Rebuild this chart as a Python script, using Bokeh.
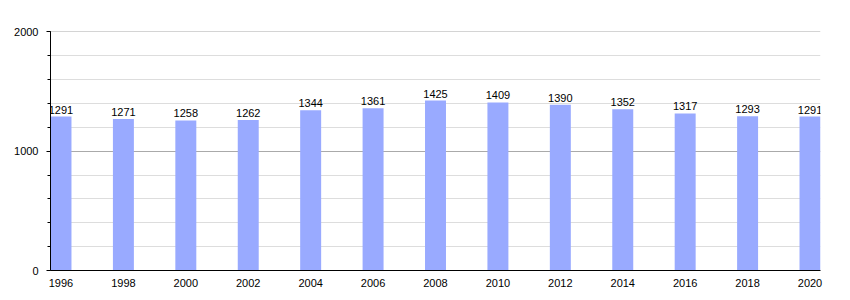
from bokeh.plotting import figure
from bokeh.models import Range1d, FixedTicker, LinearAxis, ColumnDataSource, Grid
from bokeh.core.properties import value
from bokeh.embed import file_html
from bokeh.resources import INLINE

years = ["1996", "1998", "2000", "2002", "2004", "2006", "2008", "2010", "2012", "2014", "2016", "2018", "2020"]
population = [1291, 1271, 1258, 1262, 1344, 1361, 1425, 1409, 1390, 1352, 1317, 1293, 1291]
y_ticks = [0, 1000, 2000]
y_minor = [200, 400, 600, 800, 1200, 1400, 1600, 1800]

idx = list(range(len(years)))
src = ColumnDataSource(dict(x=idx, top=population, label=[str(v) for v in population]))

FONT = "Liberation Sans"
BW = 0.336

p = figure(width=850, height=300, output_backend="svg", toolbar_location=None,
           x_range=Range1d(-BW / 2, len(years) - 1 + BW / 2), y_range=Range1d(0, 2004),
           x_axis_type=None, y_axis_type=None,
           min_border_left=50, min_border_right=30, min_border_top=31, min_border_bottom=30)
p.outline_line_color = None
p.background_fill_color = "white"
p.border_fill_color = "white"

yticker = FixedTicker(ticks=y_ticks, minor_ticks=y_ticks + y_minor)
yaxis = LinearAxis(ticker=yticker)
yaxis.axis_line_color = "black"
yaxis.major_tick_line_color = "black"
yaxis.minor_tick_line_color = "black"
yaxis.major_tick_out = 4
yaxis.major_tick_in = 0
yaxis.minor_tick_out = 3
yaxis.minor_tick_in = 0
yaxis.major_label_standoff = 8
yaxis.major_label_text_font = FONT
yaxis.major_label_text_font_size = "11px"
yaxis.major_label_text_color = "black"
p.add_layout(yaxis, "left")

xaxis = LinearAxis(ticker=FixedTicker(ticks=idx, minor_ticks=[]))
xaxis.major_label_overrides = {i: y for i, y in zip(idx, years)}
xaxis.axis_line_color = "black"
xaxis.major_tick_line_color = None
xaxis.minor_tick_line_color = None
xaxis.major_label_standoff = 2
xaxis.major_label_text_font = FONT
xaxis.major_label_text_font_size = "11px"
xaxis.major_label_text_color = "black"
p.add_layout(xaxis, "below")

grid = Grid(dimension=1, ticker=FixedTicker(ticks=[1000, 2000], minor_ticks=y_minor),
            grid_line_color="#aaaaaa", minor_grid_line_color="#dddddd")
p.add_layout(grid, "center")

p.vbar(x="x", top="top", width=BW, bottom=0, source=src, fill_color="#99aaff", line_color=None)
p.text(x="x", y="top", text="label", source=src, text_align="center", text_baseline="bottom",
       y_offset=-3, text_font=value(FONT), text_font_size="11px", text_color="black")

open("out.html", "w").write(file_html(p, INLINE))
